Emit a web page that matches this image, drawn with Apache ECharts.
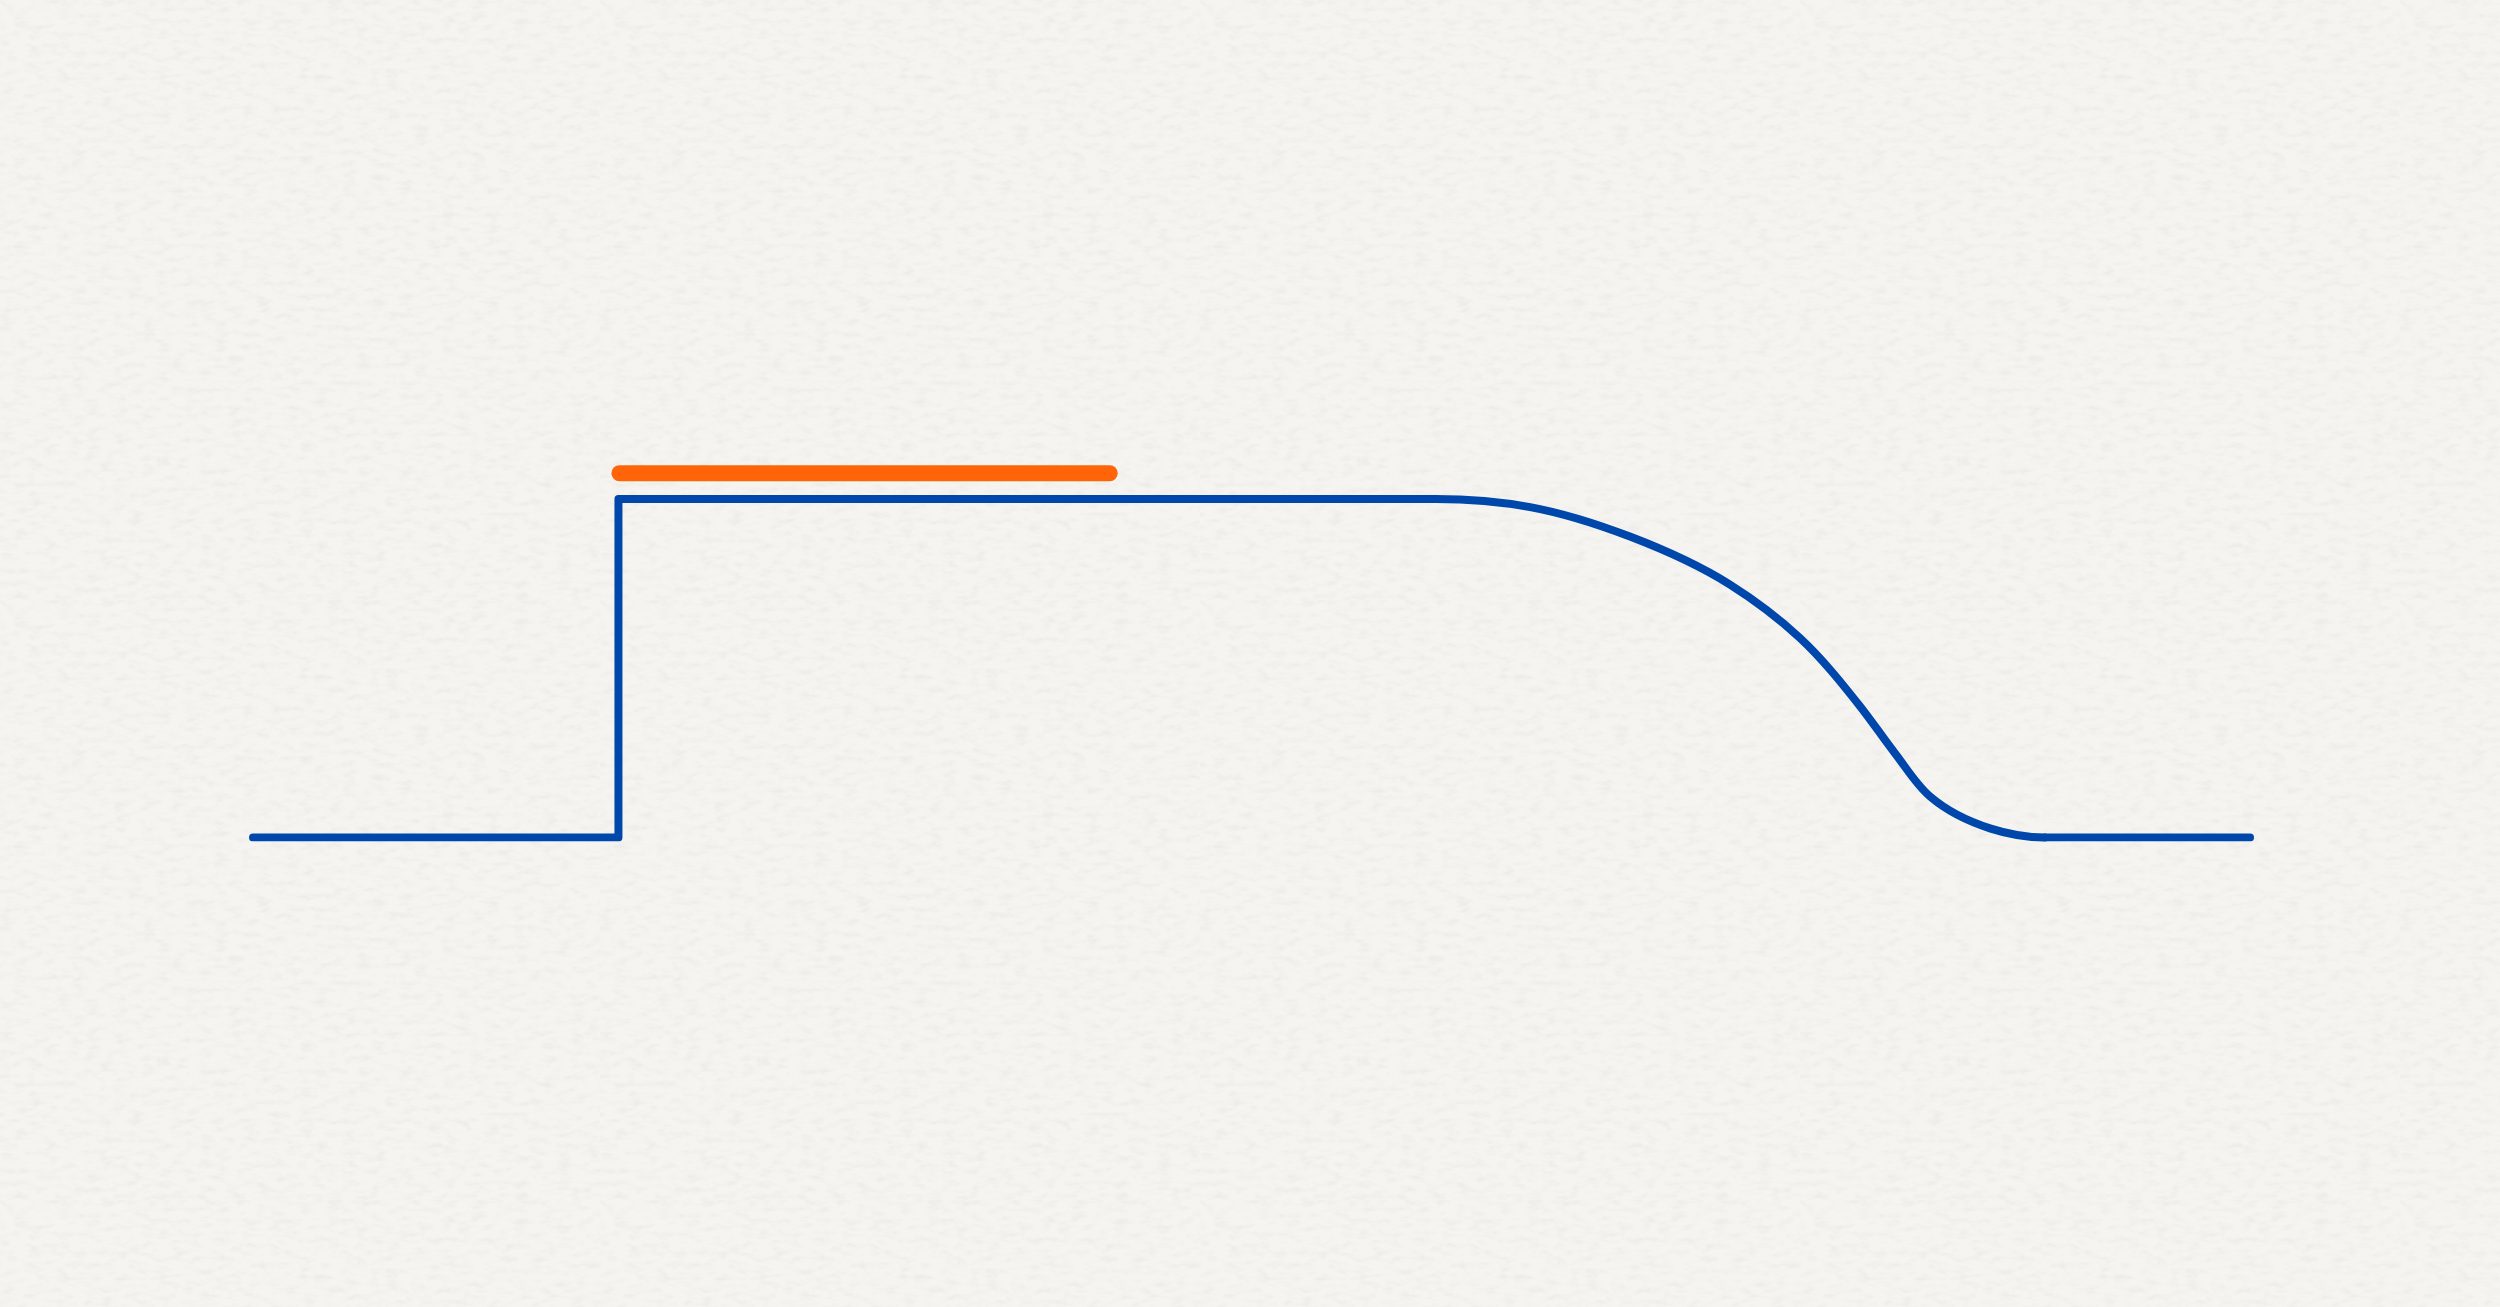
<!DOCTYPE html>
<html>
<head>
<meta charset="utf-8">
<script src="https://cdn.jsdelivr.net/npm/echarts@6/dist/echarts.min.js"></script>
<style>
html,body{margin:0;padding:0;width:2500px;height:1307px;overflow:hidden;}
body{
  background-color:#f5f4f0;
  background-image:url("data:image/svg+xml;utf8,<svg xmlns='http://www.w3.org/2000/svg' width='600' height='600'><filter id='n'><feTurbulence type='fractalNoise' baseFrequency='0.07 0.16' numOctaves='3' seed='7'/><feColorMatrix type='matrix' values='0 0 0 0 0.55  0 0 0 0 0.54  0 0 0 0 0.52  0 0 0 -1.8 1.0'/></filter><rect width='600' height='600' filter='url(%23n)' opacity='0.2'/></svg>");
}
#chart{width:2500px;height:1307px;}
</style>
</head>
<body>
<div id="chart"></div>
<script>
// Step part of the blue profile: [x, y]
const stepX = [0, 18.3, 18.3, 59.2];
const stepY = [0, 0, 1, 1];
// Falling smooth part of the blue profile
const curveX = [59.2, 63.95, 68.95, 73.96, 77.47, 80.47, 82.22, 83.98, 86.98, 89.73];
const curveY = [1.0, 0.976, 0.889, 0.747, 0.589, 0.388, 0.249, 0.121, 0.027, 0];
// Flat tail after the fall
const tailX = [89.73, 100];
const tailY = [0, 0];
// Orange bar
const barX = [18.35, 42.9];
const barY = [1.076, 1.076];

const zip = (xs, ys) => xs.map((x, i) => [x, ys[i]]);

const blue = '#0047ab';
const orange = '#ff6408';

// Smooth curve through the read points, positioned with the chart's own scales (api.coord)
function renderCurve(params, api) {
  const pts = zip(curveX, curveY).map(p => api.coord(p));
  const n = pts.length;
  const d = [];
  for (let i = 0; i < n - 1; i++) {
    d.push(Math.hypot(pts[i + 1][0] - pts[i][0], pts[i + 1][1] - pts[i][1]));
  }
  const tan = pts.map((p, i) => {
    if (i === 0 || i === n - 1) return [1, 0];
    // chord-weighted tangent direction
    const ax = (pts[i][0] - pts[i - 1][0]) / d[i - 1], ay = (pts[i][1] - pts[i - 1][1]) / d[i - 1];
    const bx = (pts[i + 1][0] - pts[i][0]) / d[i], by = (pts[i + 1][1] - pts[i][1]) / d[i];
    const wx = ax * d[i] + bx * d[i - 1], wy = ay * d[i] + by * d[i - 1];
    const L = Math.hypot(wx, wy);
    return [wx / L, wy / L];
  });
  let path = 'M' + pts[0][0] + ' ' + pts[0][1];
  for (let i = 0; i < n - 1; i++) {
    const k = d[i] / 3;
    const c1 = [pts[i][0] + tan[i][0] * k, pts[i][1] + tan[i][1] * k];
    const c2 = [pts[i + 1][0] - tan[i + 1][0] * k, pts[i + 1][1] - tan[i + 1][1] * k];
    path += ' C' + c1[0] + ' ' + c1[1] + ' ' + c2[0] + ' ' + c2[1] + ' ' + pts[i + 1][0] + ' ' + pts[i + 1][1];
  }
  return {
    type: 'path',
    shape: {pathData: path},
    style: {stroke: blue, lineWidth: 8, fill: null, lineCap: 'round', lineJoin: 'round'}
  };
}

const chart = echarts.init(document.getElementById('chart'), null, {renderer: 'canvas'});
chart.setOption({
  backgroundColor: 'transparent',
  animation: false,
  grid: {left: 253, right: 250, top: 431.3, bottom: 469.5},
  xAxis: {type: 'value', min: 0, max: 100, show: false},
  yAxis: {type: 'value', min: 0, max: 1.2, show: false},
  series: [
    {
      type: 'line', data: zip(stepX, stepY), symbol: 'none', smooth: false,
      lineStyle: {color: blue, width: 8, cap: 'round', join: 'round'}
    },
    {
      type: 'custom', coordinateSystem: 'cartesian2d',
      data: [[curveX[0], curveY[0]]],
      renderItem: renderCurve, silent: true
    },
    {
      type: 'line', data: zip(tailX, tailY), symbol: 'none',
      lineStyle: {color: blue, width: 8, cap: 'round'}
    },
    {
      type: 'line', data: zip(barX, barY), symbol: 'none',
      lineStyle: {color: orange, width: 16, cap: 'round'}
    }
  ]
});
</script>
</body>
</html>
